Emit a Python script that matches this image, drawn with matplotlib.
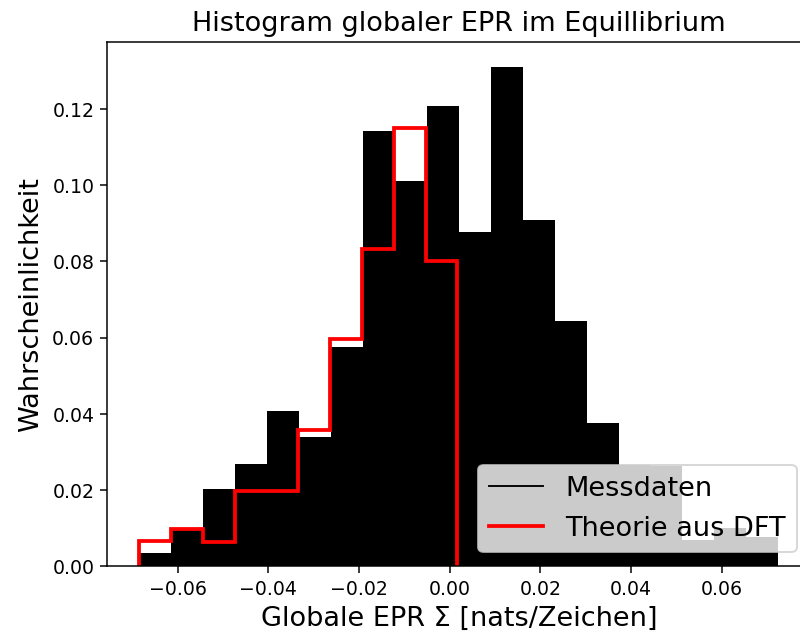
import matplotlib

matplotlib.use("Agg")
import matplotlib.pyplot as plt
import numpy as np
from matplotlib.lines import Line2D

# Measured global EPR, relative frequency per bin (20 bins)
MEAS_LO, MEAS_HI, MEAS_NBINS = -0.0684, 0.0724, 20
meas_prob = [
    0.0033, 0.0095, 0.0202, 0.0268, 0.0406, 0.0340, 0.0576, 0.1143, 0.1010, 0.1209,
    0.0876, 0.1310, 0.0908, 0.0643, 0.0375, 0.0265, 0.0262, 0.0068, 0.0100, 0.0076,
]

# Theory from DFT (10 bins)
THEO_LO, THEO_HI, THEO_NBINS = -0.0684, 0.0017, 10
theo_prob = [
    0.0065, 0.0098, 0.0063, 0.0197, 0.0197, 0.0356, 0.0595, 0.0832, 0.1150, 0.0800,
]

meas_edges = np.linspace(MEAS_LO, MEAS_HI, MEAS_NBINS + 1)
theo_edges = np.linspace(THEO_LO, THEO_HI, THEO_NBINS + 1)
meas_centers = 0.5 * (meas_edges[:-1] + meas_edges[1:])
theo_centers = 0.5 * (theo_edges[:-1] + theo_edges[1:])

DPI = 136
fig = plt.figure(figsize=(800.4 / DPI, 636.4 / DPI), dpi=DPI)
ax = fig.add_axes([0.1343, 0.1101, 0.8779, 0.8228])

ax.hist(meas_centers, bins=meas_edges, weights=meas_prob, color="black")
ax.hist(theo_centers, bins=theo_edges, weights=theo_prob, histtype="step",
        color="red", linewidth=2)

ax.set_title("Histogram globaler EPR im Equillibrium", fontsize=14.4)
ax.set_xlabel("Globale EPR Σ [nats/Zeichen]", fontsize=14.4)
ax.set_ylabel("Wahrscheinlichkeit", fontsize=14.4)

handles = [
    Line2D([], [], color="black", linewidth=1),
    Line2D([], [], color="red", linewidth=2),
]
ax.legend(handles, ["Messdaten", "Theorie aus DFT"], loc="lower right", fontsize=14.4)

fig.savefig("out.png", dpi=DPI)
